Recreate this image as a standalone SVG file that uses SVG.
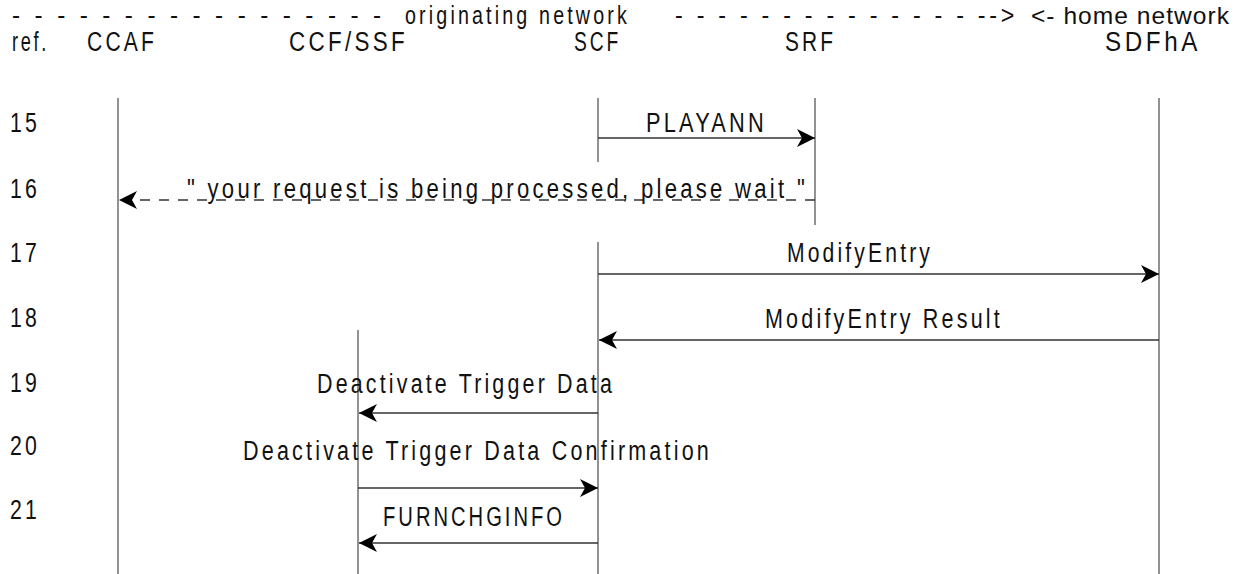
<svg xmlns="http://www.w3.org/2000/svg" width="1242" height="574" viewBox="0 0 1242 574">
<style>
text{font-family:"Liberation Sans",Arial,sans-serif;font-size:27px;letter-spacing:4px;fill:#111}
.hd{font-size:25px}
.hn{font-size:24px;letter-spacing:1px}
.life{stroke:#6e6e6e;stroke-width:1.5;fill:none}
.msg{stroke:#333;stroke-width:1.3;fill:none}
.dash{stroke:#333;stroke-width:1.3;fill:none;stroke-dasharray:10 9}
</style>
<defs>
<marker id="ah" markerUnits="userSpaceOnUse" markerWidth="24" markerHeight="24" viewBox="-20 -12 24 24" refX="0" refY="0" orient="auto">
<path d="M0,0 L-18,-9 L-13,0 L-18,9 Z" fill="#000"/>
</marker>
</defs>
<rect width="1242" height="574" fill="#fff"/>
<g id="header">
<text class="hd" x="12" y="24" textLength="373" lengthAdjust="spacingAndGlyphs">- - - - - - - - - - - - - - - - -</text>
<text class="hd" x="405" y="24" textLength="225" lengthAdjust="spacingAndGlyphs">originating network</text>
<text class="hd" x="675" y="24" textLength="343" lengthAdjust="spacingAndGlyphs">- - - - - - - - - - - - - - --&gt;</text>
<text class="hn" x="1031" y="24" textLength="199" lengthAdjust="spacingAndGlyphs">&lt;- home network</text>
<text x="12" y="51" textLength="37" lengthAdjust="spacingAndGlyphs">ref.</text>
</g>
<g id="rows">
<text x="10" y="132" textLength="30" lengthAdjust="spacingAndGlyphs">15</text>
<text x="10" y="198" textLength="30" lengthAdjust="spacingAndGlyphs">16</text>
<text x="10" y="262" textLength="30" lengthAdjust="spacingAndGlyphs">17</text>
<text x="10" y="327" textLength="30" lengthAdjust="spacingAndGlyphs">18</text>
<text x="10" y="392" textLength="30" lengthAdjust="spacingAndGlyphs">19</text>
<text x="10" y="455" textLength="30" lengthAdjust="spacingAndGlyphs">20</text>
<text x="10" y="519" textLength="30" lengthAdjust="spacingAndGlyphs">21</text>
</g>
<g id="CCAF">
<text x="87" y="51" textLength="70" lengthAdjust="spacingAndGlyphs">CCAF</text>
<line class="life" x1="118" y1="98" x2="118" y2="574"/>
</g>
<g id="CCF_SSF">
<text x="289" y="51" textLength="119" lengthAdjust="spacingAndGlyphs">CCF/SSF</text>
<line class="life" x1="358" y1="330" x2="358" y2="574"/>
</g>
<g id="SCF">
<text x="574" y="51" textLength="47" lengthAdjust="spacingAndGlyphs">SCF</text>
<line class="life" x1="598" y1="98" x2="598" y2="162"/>
<line class="life" x1="598" y1="242" x2="598" y2="574"/>
</g>
<g id="SRF">
<text x="785" y="51" textLength="51" lengthAdjust="spacingAndGlyphs">SRF</text>
<line class="life" x1="815" y1="98" x2="815" y2="225"/>
</g>
<g id="SDFhA">
<text x="1105" y="51" textLength="96" lengthAdjust="spacingAndGlyphs">SDFhA</text>
<line class="life" x1="1159" y1="98" x2="1159" y2="574"/>
</g>
<g id="connectors">
<line class="msg" x1="598" y1="138" x2="815" y2="138" marker-end="url(#ah)"/>
<text x="646" y="132" textLength="121" lengthAdjust="spacingAndGlyphs">PLAYANN</text>
<line class="dash" x1="815" y1="200" x2="119" y2="200" marker-end="url(#ah)"/>
<text x="187" y="198" textLength="621" lengthAdjust="spacingAndGlyphs">" your request is being processed, please wait "</text>
<line class="msg" x1="598" y1="274" x2="1159" y2="274" marker-end="url(#ah)"/>
<text x="787" y="262" textLength="146" lengthAdjust="spacingAndGlyphs">ModifyEntry</text>
<line class="msg" x1="1159" y1="340" x2="599" y2="340" marker-end="url(#ah)"/>
<text x="765" y="328" textLength="238" lengthAdjust="spacingAndGlyphs">ModifyEntry Result</text>
<line class="msg" x1="598" y1="413" x2="359" y2="413" marker-end="url(#ah)"/>
<text x="317" y="393" textLength="298" lengthAdjust="spacingAndGlyphs">Deactivate Trigger Data</text>
<line class="msg" x1="358" y1="488" x2="598" y2="488" marker-end="url(#ah)"/>
<text x="243" y="460" textLength="469" lengthAdjust="spacingAndGlyphs">Deactivate Trigger Data Confirmation</text>
<line class="msg" x1="598" y1="543" x2="359" y2="543" marker-end="url(#ah)"/>
<text x="383" y="526" textLength="182" lengthAdjust="spacingAndGlyphs">FURNCHGINFO</text>
</g>
</svg>
